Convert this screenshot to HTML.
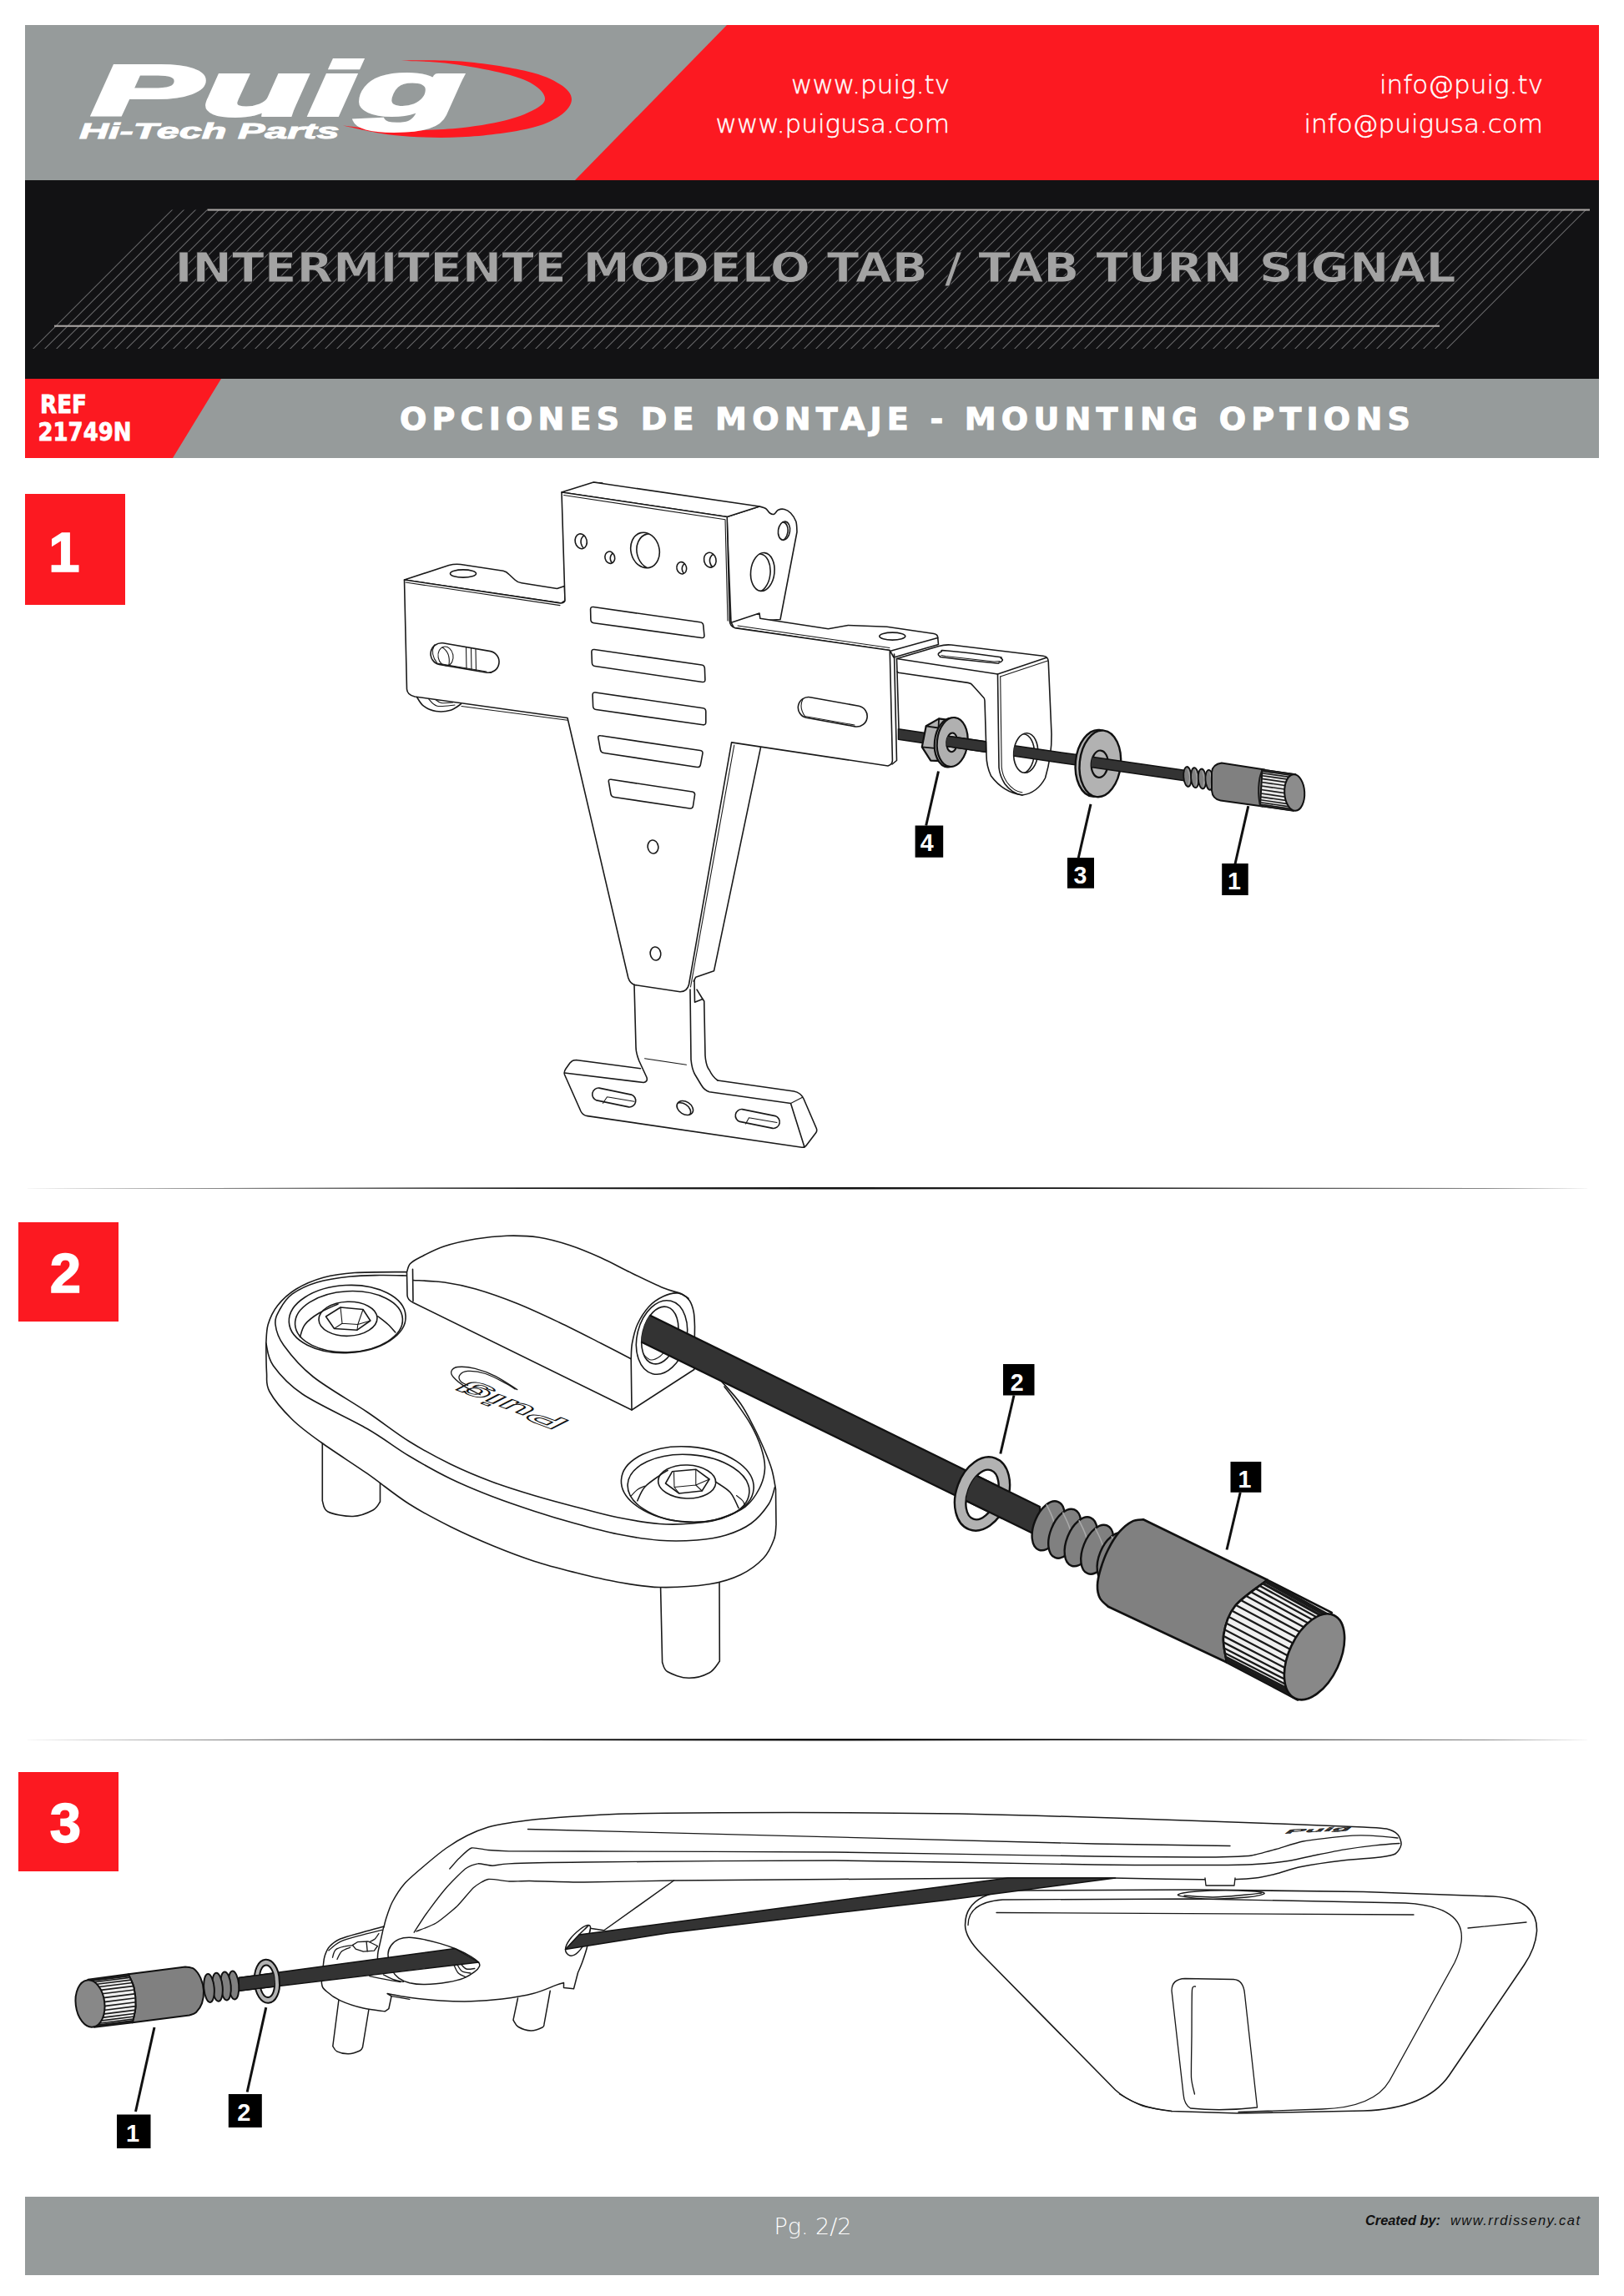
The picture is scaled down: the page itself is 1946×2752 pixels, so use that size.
<!DOCTYPE html>
<html lang="es">
<head>
<meta charset="utf-8">
<title>Puig - Intermitente modelo TAB / TAB turn signal - Opciones de montaje</title>
<style>
html,body{margin:0;padding:0;background:#fff;}
body{width:1946px;height:2752px;overflow:hidden;font-family:"Liberation Sans",sans-serif;}
svg{display:block;position:absolute;left:0;top:0;}
.ln{fill:none;stroke:#1a1a1a;stroke-width:1.6;stroke-linecap:round;stroke-linejoin:round;vector-effect:non-scaling-stroke;}
.lw{fill:#fff;stroke:#1a1a1a;stroke-width:1.6;stroke-linecap:round;stroke-linejoin:round;vector-effect:non-scaling-stroke;}
.thin{fill:none;stroke:#1a1a1a;stroke-width:1.1;stroke-linecap:round;stroke-linejoin:round;vector-effect:non-scaling-stroke;}
.gr{fill:#b0b0b0;stroke:#111;stroke-width:2;stroke-linejoin:round;vector-effect:non-scaling-stroke;}
.dg{fill:#808080;stroke:#111;stroke-width:2;stroke-linejoin:round;vector-effect:non-scaling-stroke;}
.rod{fill:#333;stroke:#111;stroke-width:1.5;stroke-linejoin:round;vector-effect:non-scaling-stroke;}
#draw3 .thin{stroke-width:1.35;}
.lead{fill:none;stroke:#111;stroke-width:3;stroke-linecap:butt;}
.tagbox{fill:#000;}
.tagtxt{fill:#fff;font-family:"Liberation Sans",sans-serif;font-weight:bold;font-size:31px;text-anchor:middle;}
.url{stroke:#fff;stroke-width:0.45;fill:#fff;font-family:"DejaVu Sans Light","DejaVu Sans","Liberation Sans",sans-serif;font-weight:200;font-size:31px;text-anchor:end;}
</style>
</head>
<body>
<svg width="1946" height="2752" viewBox="0 0 1946 2752">
<defs>
  <pattern id="hatch" width="14" height="14" patternUnits="userSpaceOnUse">
    <path d="M-1,10.8 L10.8,-1 M8.8,15 L15,8.8" stroke="#68686a" stroke-width="1.05" fill="none"/>
  </pattern>
</defs>

<!-- ================= HEADER ================= -->
<g id="header">
  <rect x="30" y="30" width="1886" height="187" fill="#969b9b"/>
  <polygon points="871,30 1916,30 1916,217 688,217" fill="#fc1921"/>
  <rect x="30" y="216" width="1886" height="238" fill="#121214"/>
  <!-- hatched band -->
  <polygon points="205,251.5 1906,251.5 1739.5,418 38.5,418" fill="url(#hatch)"/>
  <rect x="248.5" y="250.5" width="1656.5" height="2.1" fill="#a8a4a2"/>
  <rect x="65" y="389.7" width="1660" height="2.1" fill="#a8a4a2"/>
  <text x="209.5" y="338" font-family="'DejaVu Sans','Liberation Sans',sans-serif" font-weight="bold" font-size="49.5" fill="#a3a3a3" stroke="#19191b" stroke-width="1" textLength="1535" lengthAdjust="spacingAndGlyphs">INTERMITENTE MODELO TAB / TAB TURN SIGNAL</text>
  <!-- sub band -->
  <rect x="30" y="454" width="1886" height="95" fill="#969b9b"/>
  <polygon points="30,454 265,454 207,549 30,549" fill="#fc1921"/>
  <text x="48" y="495.4" font-family="'DejaVu Sans','Liberation Sans',sans-serif" font-weight="bold" font-size="29.5" fill="#fff" stroke="#fff" stroke-width="0.8" textLength="56" lengthAdjust="spacingAndGlyphs">REF</text>
  <text x="45.5" y="527.6" font-family="'DejaVu Sans','Liberation Sans',sans-serif" font-weight="bold" font-size="29.5" fill="#fff" stroke="#fff" stroke-width="0.8" textLength="112" lengthAdjust="spacingAndGlyphs">21749N</text>
  <text x="479" y="515" font-family="'DejaVu Sans','Liberation Sans',sans-serif" font-weight="bold" font-size="37" fill="#fff" stroke="#fff" stroke-width="1" letter-spacing="6" textLength="1217" lengthAdjust="spacingAndGlyphs">OPCIONES DE MONTAJE - MOUNTING OPTIONS</text>
  <!-- urls -->
  <text class="url" x="1138" y="111.5">www.puig.tv</text>
  <text class="url" x="1138" y="158.5">www.puigusa.com</text>
  <text class="url" x="1849" y="112" font-size="32.2">info@puig.tv</text>
  <text class="url" x="1849" y="159" font-size="32.2">info@puigusa.com</text>
</g>

<!-- ================= LOGO ================= -->
<g id="logo">
<path d="M411,150.5 C421.5,152.5 450.3,160 474,162.3 C497.7,164.6 526.7,165.6 553,164.3 C579.3,163 612,158.7 631.7,154.4 C651.4,150.1 662.1,144.6 671,138.7 C679.9,132.8 685,125.3 685,119 C685,112.7 679.9,106.6 671,101 C662.1,95.4 651.4,90.1 631.7,85.5 C612,80.9 579.3,75.8 553,73.6 C526.7,71.4 487.2,72.7 474,72.5 C483.8,73 513.3,73.4 533,75.6 C552.7,77.8 575.8,81.9 592.3,85.5 C608.8,89.1 621.9,92.7 631.7,97.3 C641.6,101.9 648.8,108.1 651.4,113 C654,117.9 654.1,121.9 647.5,126.8 C640.9,131.7 627.8,138.2 612,142.6 C596.2,147 576,150.9 553,153.2 C530,155.5 497.7,156.8 474,156.4 C450.3,156 421.5,151.5 411,150.5Z" fill="#fc1921"/>
<text transform="translate(110 138.2) scale(2.30 1)" font-family="'Liberation Sans',sans-serif" font-weight="bold" font-style="italic" fill="#fff" stroke="#fff" stroke-width="4" stroke-linejoin="miter" vector-effect="non-scaling-stroke"><tspan font-size="86">P</tspan><tspan font-size="91">uig</tspan></text>
<text transform="translate(95 166.3) scale(1.87 1)" font-family="'Liberation Sans',sans-serif" font-weight="bold" font-style="italic" font-size="26" fill="#fff" stroke="#fff" stroke-width="1.4" vector-effect="non-scaling-stroke">Hi-Tech Parts</text>
</g>

<!-- ================= STEP BOXES / SEPARATORS ================= -->
<g id="steps" font-family="'Liberation Sans',sans-serif" font-weight="bold" fill="#fff" stroke="#fff" stroke-width="1.6" text-anchor="middle">
  <rect x="30" y="592" width="120" height="133" fill="#fc1921" stroke="none"/>
  <text x="77" y="685" font-size="67">1</text>
  <rect x="22" y="1465" width="120" height="119" fill="#fc1921" stroke="none"/>
  <text x="78.5" y="1549" font-size="67">2</text>
  <rect x="22" y="2124" width="120" height="119" fill="#fc1921" stroke="none"/>
  <text x="78.5" y="2208" font-size="67">3</text>
</g>
<polygon points="24,1424.2 973,1422.9 1908,1424.2 973,1425.5" fill="#111"/>
<polygon points="24,2085.2 973,2083.9 1908,2085.2 973,2086.5" fill="#111"/>

<!-- ================= FOOTER ================= -->
<g id="footer">
  <rect x="30" y="2633" width="1886" height="94" fill="#969b9b"/>
  <text x="974" y="2678" font-family="'DejaVu Sans Light','DejaVu Sans','Liberation Sans',sans-serif" font-weight="200" font-size="27" fill="#fff" text-anchor="middle">Pg. 2/2</text>
  <text x="1636" y="2667" font-family="'Liberation Sans',sans-serif" font-weight="bold" font-style="italic" font-size="16.5" fill="#111" textLength="90" lengthAdjust="spacingAndGlyphs">Created by:</text>
  <text x="1738" y="2667" font-family="'Liberation Sans',sans-serif" font-style="italic" font-size="16.5" fill="#111" textLength="155" lengthAdjust="spacing">www.rrdisseny.cat</text>
</g>

<!-- ================= DRAWING 1 ================= -->
<g id="draw1">
<path class="ln" d="M911.5,895.8 L855.5,1163.8 L833.8,1171.2 L831.2,1176.2"/>
<path class="ln" d="M499.5,835.5 C500.8,837.3 503.7,843.4 507.5,846.2 C511.3,849.1 517.1,851.7 522.5,852.5 C527.9,853.3 535,852.7 540,851.2 C545,849.8 550.4,845 552.5,843.8"/>
<path class="thin" d="M513.8,838 C515.4,839.4 518.5,845.1 523.8,846.2 C529,847.4 541.5,845.2 545,845"/>
<path class="thin" d="M521.2,838 C522.5,838.8 525.2,841.8 528.8,842.5 C532.3,843.2 540.2,842.1 542.5,842"/>
<path class="lw" d="M910,607 C911.2,607.4 915.4,608.2 917.5,609.5 C919.6,610.8 920.8,613.9 922.5,615 C924.2,616.1 925.8,616.9 927.5,616.2 C929.2,615.6 930.4,612.2 932.5,611.2 C934.6,610.3 937.5,609.9 940,610.5 C942.5,611.1 945.2,612.6 947.5,615 C949.8,617.4 952.5,621.2 953.8,625 C955,628.8 954.8,635.4 955,637.5 L935,742.5 L876,746 L871,619.5 Z"/>
<path class="lw" d="M876.2,746.2 L910,735 L910.8,741.2 L992.5,753.8 L1016.3,749.5 L1062.8,751.2 L1119,759.5 Q1123.75,760.5 1123.75,764.5 L1124.5,772.5 L1071,788 L1066.25,779.5 L879.5,752.5 Z"/>
<path class="ln" d="M1123.75,764.5 L1068,780"/>
<ellipse class="ln" cx="1069.3" cy="762.6" rx="15.5" ry="4.5"/>
<path class="lw" d="M484.5,695 L538,677.6 Q545,675.5 552,676.5 L603,684.2 Q607,685 610,688.5 L617,695 Q620,698 625,698.8 L667.5,705.5 L676.5,702.5 L677,720 L672.5,723 Z"/>
<ellipse class="ln" cx="555" cy="687.5" rx="15.5" ry="4.6"/>
<path class="lw" d="M673,590 L711.2,578 L910,607 L871.2,619.5Z"/>
<path class="thin" d="M711.25,578 L722,578.8"/>
<path class="lw" d="M673,590 L871.25,619.5 L874.3,744 Q874.6,750.5 880.5,752.6 L1066.25,779.5 L1069.4,911 Q1069.5,916 1064,918 L876.6,889.9 L825.5,1180 Q823.5,1188.5 815,1188.7 L761,1180.6 Q755,1179 752.8,1172 L680,860.5 L497,835 Q488,833 487.5,826 L484.5,695 L671.5,722.9 Q676,723 677,720 Z"/>
<path class="thin" d="M675.5,593.5 L869,622.8 L872,744"/>
<path class="thin" d="M486,698 L671,725.6"/>
<path class="thin" d="M884,750 L1066,776.5"/>
<path class="ln" d="M1071.5,784 L1074.5,911.5 L1069,916"/>
<path class="thin" d="M879.8,893 L827.5,1183"/>
<path class="thin" d="M553,846.5 L680,863.3"/>
<clipPath id="hc1"><ellipse cx="696.2" cy="648.8" rx="7" ry="9" transform="rotate(-14 696.2 648.8)"/></clipPath><ellipse class="ln" cx="696.2" cy="648.8" rx="7" ry="9" transform="rotate(-14 696.2 648.8)" style="fill:none"/><g clip-path="url(#hc1)"><ellipse class="ln" cx="703.2" cy="650.2" rx="7" ry="9" transform="rotate(-14 703.2 650.2)"/></g>
<clipPath id="hc2"><ellipse cx="730.8" cy="668.2" rx="5.8" ry="7.2" transform="rotate(-14 730.8 668.2)"/></clipPath><ellipse class="ln" cx="730.8" cy="668.2" rx="5.8" ry="7.2" transform="rotate(-14 730.8 668.2)" style="fill:none"/><g clip-path="url(#hc2)"><ellipse class="ln" cx="737.2" cy="669.8" rx="5.8" ry="7.2" transform="rotate(-14 737.2 669.8)"/></g>
<clipPath id="hc3"><ellipse cx="773" cy="659.5" rx="17" ry="21.5" transform="rotate(-14 773 659.5)"/></clipPath><ellipse class="ln" cx="773" cy="659.5" rx="17" ry="21.5" transform="rotate(-14 773 659.5)" style="fill:none"/><g clip-path="url(#hc3)"><ellipse class="ln" cx="780.2" cy="661" rx="17" ry="21.5" transform="rotate(-14 780.2 661)"/></g>
<clipPath id="hc4"><ellipse cx="816.8" cy="680.8" rx="5.8" ry="7.2" transform="rotate(-14 816.8 680.8)"/></clipPath><ellipse class="ln" cx="816.8" cy="680.8" rx="5.8" ry="7.2" transform="rotate(-14 816.8 680.8)" style="fill:none"/><g clip-path="url(#hc4)"><ellipse class="ln" cx="823.2" cy="682.2" rx="5.8" ry="7.2" transform="rotate(-14 823.2 682.2)"/></g>
<clipPath id="hc5"><ellipse cx="850.8" cy="671.2" rx="7.2" ry="9" transform="rotate(-14 850.8 671.2)"/></clipPath><ellipse class="ln" cx="850.8" cy="671.2" rx="7.2" ry="9" transform="rotate(-14 850.8 671.2)" style="fill:none"/><g clip-path="url(#hc5)"><ellipse class="ln" cx="857.8" cy="672.8" rx="7.2" ry="9" transform="rotate(-14 857.8 672.8)"/></g>
<clipPath id="hc6"><ellipse cx="939.5" cy="636.2" rx="7" ry="11.2" transform="rotate(8 939.5 636.2)"/></clipPath><ellipse class="ln" cx="939.5" cy="636.2" rx="7" ry="11.2" transform="rotate(8 939.5 636.2)" style="fill:none"/><g clip-path="url(#hc6)"><ellipse class="ln" cx="937" cy="637" rx="7" ry="11.2" transform="rotate(8 937 637)"/></g>
<clipPath id="hc7"><ellipse cx="913.8" cy="685.5" rx="14.2" ry="23" transform="rotate(6 913.8 685.5)"/></clipPath><ellipse class="ln" cx="913.8" cy="685.5" rx="14.2" ry="23" transform="rotate(6 913.8 685.5)" style="fill:none"/><g clip-path="url(#hc7)"><ellipse class="ln" cx="908.8" cy="686.8" rx="14.2" ry="23" transform="rotate(6 908.8 686.8)"/></g>
<path class="ln" d="M707.6,730.5 Q707.5,727 711,727.5 L839,745.8 Q842.5,746.2 842.8,749.7 L843.9,761.5 Q844.2,765 840.8,764.5 L711.5,746.7 Q708,746.2 707.9,742.8 Z"/>
<path class="ln" d="M708.9,781.5 Q708.8,778 712.2,778.5 L840.8,797 Q844.2,797.5 844.4,801 L844.9,814.5 Q845,818 841.5,817.5 L713,798.5 Q709.5,798 709.4,794.5 Z"/>
<path class="ln" d="M710.1,833 Q710,829.5 713.5,830 L842.3,848.7 Q845.8,849.2 845.8,852.8 L845.8,865.8 Q845.8,869.2 842.3,868.8 L714.2,850.5 Q710.8,850 710.6,846.5 Z"/>
<path class="ln" d="M716.9,884.7 Q716.2,881.2 719.7,881.8 L839,899.5 Q842.5,900 841.9,903.4 L839.4,916.6 Q838.8,920 835.3,919.5 L723.5,902.5 Q720,902 719.4,898.6 Z"/>
<path class="ln" d="M729.4,937.2 Q728.8,933.8 732.2,934.3 L829.5,949 Q833,949.5 832.5,953 L830.5,966 Q830,969.5 826.5,969 L736,955.5 Q732.5,955 731.9,951.6 Z"/>
<ellipse class="ln" cx="782.5" cy="1015" rx="6.3" ry="8" transform="rotate(-8 782.5 1015)"/>
<ellipse class="ln" cx="785.5" cy="1143" rx="6.3" ry="8" transform="rotate(-8 785.5 1143)"/>
<path class="ln" d="M530.7,770.8 L587.8,780.6 A13,13 0 0 1 583.4,806.2 L526.3,796.4 A13,13 0 0 1 530.7,770.8 Z"/>
<path class="thin" d="M520.5,773 Q515,784 524,795 L583,805"/>
<ellipse class="thin" cx="534" cy="786.5" rx="9" ry="11.5" transform="rotate(-10 534 786.5)"/>
<path class="thin" d="M530,776 Q540,782 538,797"/>
<path class="thin" d="M558.5,776.1 L559,801.6"/>
<path class="thin" d="M564.5,777.1 L565,802.6"/>
<path class="thin" d="M570,778 L570.5,803.5"/>
<path class="ln" d="M970.7,835.7 L1029.2,846.3 A12.5,12.5 0 0 1 1024.8,870.9 L966.3,860.3 A12.5,12.5 0 0 1 970.7,835.7 Z"/>
<path class="thin" d="M962,838 Q957,848 964.5,858.5 L1024,869"/>
<path class="ln" d="M832,1175 L832.5,1201.2 L842,1197.5 L835,1186.2"/>
<path class="ln" d="M842,1197.5 L843.75,1200 L845,1265 Q846,1278 850,1282.5 Q854,1291 860,1295"/>
<path class="ln" d="M690,1270.5 L767.5,1280.75 M690,1270.5 Q686,1270.5 683,1274 L678,1281 Q675.5,1284.5 676.5,1288 L696,1332 Q698.5,1337 704,1337.6 L961,1375.2 Q964.5,1375.5 966.5,1372.5 L977.5,1358 Q979.5,1355.5 978.3,1352.5 L963,1317 Q959.5,1309.5 951.25,1308 L860,1295"/>
<path class="ln" d="M676.5,1286 L771.25,1297.5 Q776.5,1296.5 775,1291.5 L766,1272 Q762,1262 762,1255 L760,1180.5"/>
<path class="ln" d="M827,1186 L828,1270 Q829,1281 832.5,1287.5 L840,1300 Q844,1307 850,1308.75 L947.5,1322.5 L964,1375"/>
<path class="thin" d="M947.5,1322.5 L962,1315"/>
<path class="thin" d="M772.5,1268.75 L822.5,1276.25"/>
<path class="ln" d="M718,1304.1 L756.5,1312.1 A7.6,7.6 0 0 1 753.5,1326.9 L715,1318.9 A7.6,7.6 0 0 1 718,1304.1 Z"/>
<path class="thin" d="M727.5,1314.8 L760,1320.3 M727.5,1314.8 L722.5,1322.3"/>
<path class="ln" d="M889.5,1329.6 L929,1337.6 A7.6,7.6 0 0 1 926,1352.4 L886.5,1344.4 A7.6,7.6 0 0 1 889.5,1329.6 Z"/>
<path class="thin" d="M897.5,1339.7 L931,1345.5 M897.5,1339.7 L893.5,1347"/>
<clipPath id="hc8"><ellipse cx="820.8" cy="1328" rx="10.5" ry="7.5" transform="rotate(32 820.8 1328)"/></clipPath><ellipse class="ln" cx="820.8" cy="1328" rx="10.5" ry="7.5" transform="rotate(32 820.8 1328)" style="fill:none"/><g clip-path="url(#hc8)"><ellipse class="ln" cx="817.8" cy="1330.2" rx="10.5" ry="7.5" transform="rotate(32 817.8 1330.2)"/></g>
<path class="rod" d="M1076.5,873.8 L1112,878.9 L1112,891.4 L1076.5,886.3Z"/>
<path class="gr" d="M1125.1,861.4 L1109.7,870.3 L1104.8,895.3 L1115.2,911.6 L1126.9,912.2 L1133.1,886.9 L1132.5,862.3Z" style="fill:#b0b0b0;stroke-width:2.2"/>
<path class="ln" d="M1109.7,870.3 L1124.5,872.5 L1120.2,896.8 L1104.8,895.3M1125.1,861.4 L1124.5,872.5M1120.2,896.8 L1124.5,911.6" style="stroke:#111;stroke-width:1.8"/>
<ellipse class="gr" cx="1138.2" cy="890" rx="18.3" ry="29.6" transform="rotate(6 1138.2 890)" style="fill:#b0b0b0;stroke-width:2.2"/>
<ellipse class="gr" cx="1141.2" cy="889.5" rx="18.3" ry="29.6" transform="rotate(6 1141.2 889.5)" style="fill:#b0b0b0;stroke-width:2.2"/>
<clipPath id="nutc"><path d="M1134.2,889.5 A7,11.3 0 1 1 1148.2,889.5 A7,11.3 0 1 1 1134.2,889.5 Z M1141.2,819.5 h140 v140 h-140 Z"/></clipPath>
<ellipse class="gr" cx="1140.7" cy="889.8" rx="6.5" ry="11.4" transform="rotate(4 1140.7 889.8)" style="fill:#d0d0d0;stroke-width:2"/>
<g clip-path="url(#nutc)"><path class="rod" d="M1133.2,882 L1183,889.1 L1183,901.6 L1133.2,894.5Z"/></g>
<path class="lw" d="M1074.5,789.5 L1125,774.5 Q1132,772.3 1140,773 L1250,786.25 Q1256,787 1256.25,793 L1260,880 Q1260.5,905 1252.5,932.5 Q1243,950.5 1225,953 Q1202.5,950 1187.5,930 Q1182,918 1182,905 L1180,840 Q1179.5,836.5 1178.75,836.25 L1166,822 Q1164,819 1160,818.4 L1076.5,806.3 L1075,805 Z"/>
<g clip-path="url(#nutc)"><path class="rod" d="M1133.2,882 L1181.5,888.9 L1181.5,901.4 L1133.2,894.5Z"/></g>
<path class="ln" d="M1074.5,789.5 L1195.5,808 L1254,788.2"/>
<path class="thin" d="M1198.5,811 L1255.5,792"/>
<path class="ln" d="M1195.5,808 L1197,920 Q1198,930 1204,939.5 Q1213,951.5 1225,953"/>
<path class="thin" d="M1198.7,811 L1200.2,919.5 Q1201,929 1206.5,937.5 Q1214.5,948.5 1225,950"/>
<path class="ln" d="M1075,805 L1077,873"/>
<path class="ln" d="M1124.2,784 C1124.5,783 1126.2,781.7 1128,781 C1129.8,780.3 1124,779 1135,780 C1146,781 1183,785.5 1193.8,787 C1204.5,788.5 1198.2,788.2 1199.5,789 C1200.8,789.8 1201.7,790.6 1201.2,791.5 C1200.8,792.4 1198.9,793.8 1197,794.2 C1195.1,794.8 1200.7,795.5 1190,794.5 C1179.3,793.5 1143.6,789.5 1133,788.2 C1122.4,787 1128,787.5 1126.5,786.8 C1125,786 1124,785 1124.2,784Z"/>
<path class="thin" d="M1128,785.5 L1133,786.5 L1191.2,793 L1198,792.5"/>
<clipPath id="hc9"><ellipse cx="1229.2" cy="902.5" rx="14.5" ry="23.8" transform="rotate(4 1229.2 902.5)"/></clipPath><ellipse class="ln" cx="1229.2" cy="902.5" rx="14.5" ry="23.8" transform="rotate(4 1229.2 902.5)" style="fill:#fff"/><g clip-path="url(#hc9)"><ellipse class="ln" cx="1224.8" cy="903.5" rx="14.5" ry="23.8" transform="rotate(4 1224.8 903.5)"/></g>
<clipPath id="tabc"><path d="M1214.8,902.5 A14.5,23.8 0 1 1 1243.8,902.5 A14.5,23.8 0 1 1 1214.8,902.5 Z M1232.2,832.5 h140 v140 h-140 Z"/></clipPath>
<g clip-path="url(#tabc)"><path class="rod" d="M1213.2,893.5 L1294,905.1 L1294,917.6 L1213.2,906Z"/></g>
<ellipse class="gr" cx="1313.4" cy="914.8" rx="24.6" ry="40" transform="rotate(6 1313.4 914.8)" style="fill:#b2b2b2;stroke-width:2.4"/>
<ellipse class="gr" cx="1318.3" cy="915.4" rx="24.6" ry="40" transform="rotate(6 1318.3 915.4)" style="fill:#b2b2b2;stroke-width:2.4"/>
<clipPath id="wc"><path d="M1307.7,915.7 A10,16.2 0 1 1 1327.7,915.7 A10,16.2 0 1 1 1307.7,915.7 Z M1321.3,845.7 h140 v140 h-140 Z"/></clipPath>
<ellipse class="gr" cx="1317.7" cy="915.7" rx="10" ry="16.2" transform="rotate(4 1317.7 915.7)" style="fill:#b2b2b2;stroke-width:2.2"/>
<g clip-path="url(#wc)"><path class="rod" d="M1306.3,906.9 L1421,923.4 L1421,935.9 L1306.3,919.4Z"/></g>
<path class="dg" d="M1419.5,925.5 L1453,930.2 L1453,942.5 L1419.5,937.5Z" style="stroke-width:1.5"/>
<ellipse class="dg" cx="1423" cy="931" rx="4.7" ry="12" transform="rotate(-4 1423 931)" style="stroke-width:1.8"/>
<path class="thin" d="M1423.5,922 C1423.8,923.5 1425.4,928 1425.6,931 C1425.8,934 1424.7,938.5 1424.5,940" style="stroke:#a5a5a5;stroke-width:1.2"/>
<ellipse class="dg" cx="1431.8" cy="932.2" rx="4.7" ry="12" transform="rotate(-4 1431.8 932.2)" style="stroke-width:1.8"/>
<path class="thin" d="M1432.2,923.2 C1432.6,924.8 1434.2,929.2 1434.3,932.2 C1434.5,935.2 1433.4,939.8 1433.2,941.2" style="stroke:#a5a5a5;stroke-width:1.2"/>
<ellipse class="dg" cx="1440.5" cy="933.5" rx="4.7" ry="12" transform="rotate(-4 1440.5 933.5)" style="stroke-width:1.8"/>
<path class="thin" d="M1441,924.5 C1441.3,926 1442.9,930.5 1443.1,933.5 C1443.3,936.5 1442.2,941 1442,942.5" style="stroke:#a5a5a5;stroke-width:1.2"/>
<ellipse class="dg" cx="1449.2" cy="934.8" rx="4.7" ry="12" transform="rotate(-4 1449.2 934.8)" style="stroke-width:1.8"/>
<path class="thin" d="M1449.8,925.8 C1450.1,927.2 1451.7,931.8 1451.8,934.8 C1452,937.8 1450.9,942.2 1450.8,943.8" style="stroke:#a5a5a5;stroke-width:1.2"/>
<path class="dg" d="M1463.8,914.5 L1515.5,922.5 L1513,966.5 L1462.5,959.5 Q1453,958 1452,947.5 L1452,925.5 Q1453,916 1463.8,914.5 Z"/>
<path class="gr" d="M1512.5,922.5 L1552.5,928.2 L1550,971.8 L1510,966Z" style="fill:#e9e9e9"/>
<path class="thin" d="M1512.5,922.5 L1552.5,928.2" style="stroke:#1c1c1c;stroke-width:1.6"/>
<path class="thin" d="M1512.5,923 L1552.5,928.7" style="stroke:#1c1c1c;stroke-width:1.6"/>
<path class="thin" d="M1512.4,924.4 L1552.4,930.1" style="stroke:#1c1c1c;stroke-width:1.6"/>
<path class="thin" d="M1512.3,926.7 L1552.3,932.4" style="stroke:#1c1c1c;stroke-width:1.6"/>
<path class="thin" d="M1512.1,929.7 L1552.1,935.4" style="stroke:#1c1c1c;stroke-width:1.6"/>
<path class="thin" d="M1511.9,933.4 L1551.9,939.1" style="stroke:#1c1c1c;stroke-width:1.6"/>
<path class="thin" d="M1511.6,937.5 L1551.6,943.3" style="stroke:#1c1c1c;stroke-width:1.6"/>
<path class="thin" d="M1511.4,942 L1551.4,947.7" style="stroke:#1c1c1c;stroke-width:1.6"/>
<path class="thin" d="M1511.1,946.5 L1551.1,952.3" style="stroke:#1c1c1c;stroke-width:1.6"/>
<path class="thin" d="M1510.9,951 L1550.9,956.7" style="stroke:#1c1c1c;stroke-width:1.6"/>
<path class="thin" d="M1510.6,955.1 L1550.6,960.9" style="stroke:#1c1c1c;stroke-width:1.6"/>
<path class="thin" d="M1510.4,958.8 L1550.4,964.6" style="stroke:#1c1c1c;stroke-width:1.6"/>
<path class="thin" d="M1510.2,961.8 L1550.2,967.6" style="stroke:#1c1c1c;stroke-width:1.6"/>
<path class="thin" d="M1510.1,964.1 L1550.1,969.9" style="stroke:#1c1c1c;stroke-width:1.6"/>
<path class="thin" d="M1510,965.5 L1550,971.3" style="stroke:#1c1c1c;stroke-width:1.6"/>
<path class="thin" d="M1510,966 L1550,971.8" style="stroke:#1c1c1c;stroke-width:1.6"/>
<path class="ln" d="M1512.5,922.5 C1512,924.2 1510.2,928.9 1509.5,932.5 C1508.8,936.1 1508.4,940.3 1508.2,944.2 C1508.1,948.2 1508.2,952.6 1508.5,956.2 C1508.8,959.9 1509.8,964.4 1510,966" style="stroke-width:2"/>
<ellipse class="dg" cx="1551.2" cy="950" rx="12" ry="21.8" transform="rotate(-3 1551.2 950)" style="fill:#8c8c8c"/>
<path class="lead" d="M1124.5,924.5 L1109.7,989.5"/>
<path class="lead" d="M1307,963.8 L1292.2,1028.5"/>
<path class="lead" d="M1495.8,966.2 L1480,1035.5"/>
<rect class="tagbox" x="1096.6" y="989.5" width="33.6" height="38.2"/><text class="tagtxt" x="1110.8" y="1020" style="font-size:28.6px">4</text>
<rect class="tagbox" x="1279" y="1028.1" width="32" height="36.6"/><text class="tagtxt" x="1294.4" y="1058.9" style="font-size:28.6px">3</text>
<rect class="tagbox" x="1464.2" y="1035" width="31.5" height="38"/><text class="tagtxt" x="1479" y="1065.7" style="font-size:28.6px">1</text>
</g>

<!-- ================= DRAWING 2 ================= -->
<g id="draw2">
<path class="lw" d="M386.3,1700 L386.3,1799  C387.4,1801.2 386.9,1808.9 393,1812 C399.1,1815.1 414,1817.8 423,1817.5 C432,1817.2 441.6,1812.9 447,1810 C452.4,1807.1 454.1,1801.7 455.5,1800 L455.5,1770"/>
<path class="lw" d="M791.3,1890 L793.6,1992.5  C794.7,1994.4 794.8,2000.7 800,2003.8 C805.2,2006.9 816.7,2011.1 825,2011.3 C833.3,2011.5 843.8,2008.3 850,2005 C856.2,2001.7 860.2,1993.6 862.3,1991.3 L862,1890"/>
<path class="lw" d="M487.5,1524.5 C477.1,1524.7 441.7,1524.4 425,1525.5 C408.3,1526.6 399.2,1528 387.5,1531.2 C375.8,1534.5 364.2,1539.4 355,1545 C345.8,1550.6 338.1,1557.9 332.5,1565 C326.9,1572.1 323.5,1580 321.2,1587.5 C319,1595 319.2,1606.2 318.8,1610 C318.9,1615.8 318.8,1635.3 319.5,1645 C320.2,1654.7 317.9,1658.6 323,1668 C328.1,1677.4 339.7,1691.1 350,1701.2 C360.3,1711.4 370,1718.2 385,1729 C400,1739.8 422.5,1754 440,1766.2 C457.5,1778.5 473.3,1791.9 490,1802.5 C506.7,1813.1 523.3,1821.7 540,1830 C556.7,1838.3 573.3,1845.6 590,1852.5 C606.7,1859.4 623.3,1865.8 640,1871.2 C656.7,1876.7 673.3,1880.8 690,1885 C706.7,1889.2 723.3,1893.3 740,1896.2 C756.7,1899.2 771.7,1902.1 790,1902.5 C808.3,1902.9 833.8,1901.2 850,1898.8 C866.2,1896.2 876.7,1892.7 887.5,1887.5 C898.3,1882.3 908.3,1874.6 915,1867.5 C921.7,1860.4 925,1851.7 927.5,1845 C930,1838.3 929.6,1830.4 930,1827.5 L929.5,1785  C928.8,1781.2 927.2,1769.8 925,1762 C922.8,1754.2 919.7,1746.7 916,1738 C912.3,1729.3 907.8,1719.2 903,1710 C898.2,1700.8 893.8,1691.5 887.5,1682.5 C881.2,1673.5 868.8,1660.6 865,1656.2 L760,1560 Z"/>
<path class="ln" d="M318.8,1610 C320.2,1614.5 320.2,1626.8 327.5,1637 C334.8,1647.2 343.8,1658.4 362.5,1671 C381.2,1683.6 418.8,1700.2 440,1712.5 C461.2,1724.8 473.3,1735 490,1745 C506.7,1755 523.3,1764.4 540,1772.5 C556.7,1780.6 573.3,1787.3 590,1793.8 C606.7,1800.2 623.3,1805.8 640,1811.2 C656.7,1816.7 673.3,1821.7 690,1826.2 C706.7,1830.8 723.3,1835.4 740,1838.8 C756.7,1842.1 774.2,1845 790,1846.2 C805.8,1847.5 821.7,1847 835,1846 C848.3,1845 859.2,1843.3 870,1840 C880.8,1836.7 891.5,1832.2 900,1826 C908.5,1819.8 916.2,1810.2 921,1803 C925.8,1795.8 927.2,1785.9 928.5,1782.5"/>
<path class="ln" d="M487.5,1529 C482.1,1528.9 466.2,1528.3 455,1528.5 C443.8,1528.7 432.5,1528.6 420,1530 C407.5,1531.4 391.7,1533.5 380,1537 C368.3,1540.5 357.5,1545.8 350,1551.2 C342.5,1556.8 338.3,1564 335,1570 C331.7,1576 329.2,1580.4 330,1587.5 C330.8,1594.6 332.5,1602.1 340,1612.5 C347.5,1622.9 358.3,1636.7 375,1650 C391.7,1663.3 420.8,1679.6 440,1692.5 C459.2,1705.4 473.3,1717.1 490,1727.5 C506.7,1737.9 523.3,1746.9 540,1755 C556.7,1763.1 573.3,1770 590,1776.2 C606.7,1782.5 623.3,1787.5 640,1792.5 C656.7,1797.5 673.3,1801.9 690,1806.2 C706.7,1810.6 723.3,1815.4 740,1818.8 C756.7,1822.1 775,1825.3 790,1826.5 C805,1827.7 817.9,1827.1 830,1826 C842.1,1824.9 852,1823.3 862.5,1820 C873,1816.7 885.1,1812 893,1806 C900.9,1800 906.1,1791.7 910,1784 C913.9,1776.3 916.2,1768.2 916.5,1760 C916.8,1751.8 914.8,1743.7 912,1735 C909.2,1726.3 905.3,1717.5 900,1708 C894.7,1698.5 885.3,1685.7 880,1678 C874.7,1670.3 870,1664.7 868,1662"/>
<ellipse class="ln" cx="416.2" cy="1581" rx="70" ry="40.5" transform="rotate(-3 416.2 1581)"/>
<ellipse class="ln" cx="418" cy="1584.2" rx="64.5" ry="36.5" transform="rotate(-3 418 1584.2)"/>
<path class="ln" d="M359.5,1602.5 C360.5,1600 361.7,1592.3 365.5,1587.5 C369.3,1582.7 375.9,1577.8 382.5,1573.8 C389.1,1569.7 401.2,1564.8 405,1563"/>
<path class="ln" d="M452.5,1577.5 C454.6,1579.2 461.5,1584.2 465,1587.5 C468.5,1590.8 472.3,1595.4 473.8,1597"/>
<ellipse class="ln" cx="417" cy="1580.8" rx="35" ry="20.5" transform="rotate(-2 417 1580.8)"/>
<path class="ln" d="M390.5,1578 L408,1567 L435,1569.5 L443.8,1583 L428,1594.2 L400.5,1592.5Z"/>
<path class="thin" d="M408,1567 L410,1586.2 L400.5,1592.5M410,1586.2 L428.8,1587.5 L443.8,1583M428.8,1587.5 L428,1594.2M435,1569.5 L428.8,1587.5"/>
<ellipse class="ln" cx="823.8" cy="1779" rx="79.5" ry="45" transform="rotate(4 823.8 1779)"/>
<ellipse class="ln" cx="825" cy="1784" rx="73" ry="40.5" transform="rotate(4 825 1784)"/>
<path class="ln" d="M763.8,1798.8 C765.2,1796 768.1,1787.5 772.5,1782.5 C776.9,1777.5 785.4,1772.1 790,1768.8 C794.6,1765.4 798.3,1763.5 800,1762.5"/>
<path class="ln" d="M857.5,1776.2 C860.4,1778.3 870.4,1783.5 875,1788.8 C879.6,1794 883.3,1804.4 885,1807.5"/>
<path class="thin" d="M756.2,1793 C757.5,1791.8 761,1787.5 763.8,1785.5 C766.5,1783.5 771,1782 772.5,1781.2"/>
<path class="thin" d="M882.5,1792.5 C883.8,1793.5 888.4,1796.9 890,1798.8 C891.6,1800.6 891.7,1802.9 892,1803.8"/>
<ellipse class="ln" cx="823.2" cy="1776" rx="34.5" ry="20" transform="rotate(2 823.2 1776)"/>
<path class="ln" d="M797.5,1778 L805.5,1763.8 L833.8,1761.2 L850,1773 L841.2,1787 L813.8,1790Z"/>
<path class="thin" d="M807.5,1764.5 L808,1782.5 L813.8,1790M808,1782.5 L833.8,1780 L850,1773M833.8,1761.2 L833.8,1780 L841.2,1787"/>
<path class="lw" d="M487.5,1525 C488.1,1523.3 488.8,1517.9 491.2,1515 C493.8,1512.1 495.6,1511 502.5,1507.5 C509.4,1504 521.2,1497.5 532.5,1493.8 C543.8,1490 557.5,1487.1 570,1485 C582.5,1482.9 595,1481.6 607.5,1481.2 C620,1480.9 632.5,1481.1 645,1483 C657.5,1484.9 670,1488.4 682.5,1492.5 C695,1496.6 707.5,1501.9 720,1507.5 C732.5,1513.1 745,1520.2 757.5,1526.2 C770,1532.3 785,1539.6 795,1543.8 C805,1547.9 812.3,1548.8 817.5,1551.2 C822.7,1553.8 824,1555.2 826.2,1558.8 C828.5,1562.3 830.2,1567.3 831.2,1572.5 C832.3,1577.7 832.3,1587.1 832.5,1590 L831.8,1641.5 L757,1690 L495,1561.2 Q488.2,1558 488,1552.5 Z"/>
<path class="ln" d="M494.5,1521.2 L495,1559.5"/>
<path class="ln" d="M495,1534.5 C501.2,1534.9 520,1535.2 532.5,1537 C545,1538.8 555.4,1540.8 570,1545 C584.6,1549.2 603.3,1555.8 620,1562.5 C636.7,1569.2 653.3,1577.1 670,1585 C686.7,1592.9 705.6,1602.7 720,1610 C734.4,1617.3 750.2,1625.6 756.2,1628.8"/>
<path class="ln" d="M757,1690 L756.2,1628.8 C756.5,1625.6 756.2,1616.9 757.5,1610 C758.8,1603.1 760.4,1594.8 763.8,1587.5 C767.1,1580.2 772.3,1571.9 777.5,1566.2 C782.7,1560.6 789.2,1556.5 795,1553.8 C800.8,1551 807.5,1549.6 812.5,1550 C817.5,1550.4 822.9,1555.2 825,1556.2"/>
<ellipse class="ln" cx="793" cy="1603" rx="29.5" ry="45" transform="rotate(14 793 1603)"/>
<ellipse class="ln" cx="790.8" cy="1600.5" rx="21" ry="35" transform="rotate(14 790.8 1600.5)"/>
<path class="thin" d="M771.2,1623.8 C772.7,1624.8 776.7,1629.7 780,1630 C783.3,1630.3 788.3,1627.6 791.2,1625.5 C794.2,1623.4 796.5,1618.8 797.5,1617.5"/>
<clipPath id="d2c"><path d="M770.4,1595.5 A21,35 14 1 1 811.1,1605.5 A21,35 14 1 1 770.4,1595.5 Z M792.8,1480 h800 v600 h-800 Z"/></clipPath>
<g clip-path="url(#d2c)"><path class="rod" d="M760,1567.4 L1200,1783.4 L1200,1819.5 L760,1604.3Z" style="stroke-width:2.2"/></g>
<text transform="matrix(-2.92 -1.09 1.465 -0.757 684.5 1703.7)" font-family="'Liberation Sans',sans-serif" font-weight="bold" font-size="20" fill="none" stroke="#111" stroke-width="1.9" stroke-linejoin="round" vector-effect="non-scaling-stroke">Puig</text>
<path class="ln" d="M575.4,1671.7 C572.3,1670.1 562.3,1665.4 556.9,1661.9 C551.6,1658.4 546.1,1653.9 543.4,1650.8 C540.7,1647.7 540.1,1645.5 540.9,1643.4 C541.8,1641.3 543.6,1639 548.3,1638.5 C553,1638 561.7,1638.5 569.3,1640.3 C576.9,1642.2 585.5,1645.3 593.9,1649.6 C602.3,1653.8 615.4,1662.9 619.8,1665.6" style="stroke-width:1.3"/>
<path class="ln" d="M617.3,1665 C615.4,1663.8 612.2,1661.3 606.2,1658.2 C600.3,1655.1 589.2,1648.9 581.6,1646.5 C574,1644 565.8,1643.1 560.6,1643.4 C555.5,1643.7 552.2,1646.3 550.8,1648.3 C549.4,1650.4 550.4,1653.7 552,1655.7 C553.7,1657.8 559.2,1659.8 560.6,1660.6" style="stroke-width:1.3"/>
<path class="gr" style="fill:#b2b2b2;stroke-width:2.4" fill-rule="evenodd" d="M1148,1779.5 A31,45.5 20 1 1 1206,1801.5 A31,45.5 20 1 1 1148,1779.5 Z M1160.5,1785.5 A17.5,31 20 1 0 1193.5,1797.5 A17.5,31 20 1 0 1160.5,1785.5 Z"/>
<clipPath id="d2w"><path d="M1160.5,1785.5 A17.5,31 20 1 1 1193.5,1797.5 A17.5,31 20 1 1 1160.5,1785.5 Z M1181,1600 h300 v400 h-300 Z"/></clipPath>
<g clip-path="url(#d2w)"><path class="rod" d="M1140,1753.9 L1246,1806 L1246,1842 L1140,1790.1Z" style="stroke-width:2.2"/></g>
<ellipse class="dg" cx="1256.2" cy="1828.8" rx="17" ry="31" transform="rotate(22 1256.2 1828.8)" style="stroke-width:2.4"/>
<path class="thin" d="M1254.2,1803.8 C1255.8,1807.4 1261.9,1817.9 1263.2,1825.8 C1264.6,1833.6 1262.4,1846.6 1262.2,1850.8" style="stroke:#a9a9a9;stroke-width:1.6"/>
<ellipse class="dg" cx="1275.8" cy="1838.2" rx="17" ry="31" transform="rotate(22 1275.8 1838.2)" style="stroke-width:2.4"/>
<path class="thin" d="M1273.8,1813.2 C1275.2,1816.9 1281.4,1827.4 1282.8,1835.2 C1284.1,1843.1 1281.9,1856.1 1281.8,1860.2" style="stroke:#a9a9a9;stroke-width:1.6"/>
<ellipse class="dg" cx="1295.2" cy="1847.8" rx="17" ry="31" transform="rotate(22 1295.2 1847.8)" style="stroke-width:2.4"/>
<path class="thin" d="M1293.2,1822.8 C1294.8,1826.4 1300.9,1836.9 1302.2,1844.8 C1303.6,1852.6 1301.4,1865.6 1301.2,1869.8" style="stroke:#a9a9a9;stroke-width:1.6"/>
<ellipse class="dg" cx="1314.8" cy="1857.2" rx="17" ry="31" transform="rotate(22 1314.8 1857.2)" style="stroke-width:2.4"/>
<path class="thin" d="M1312.8,1832.2 C1314.2,1835.9 1320.4,1846.4 1321.8,1854.2 C1323.1,1862.1 1320.9,1875.1 1320.8,1879.2" style="stroke:#a9a9a9;stroke-width:1.6"/>
<ellipse class="dg" cx="1334.2" cy="1866.8" rx="17" ry="31" transform="rotate(22 1334.2 1866.8)" style="stroke-width:2.4"/>
<path class="thin" d="M1332.2,1841.8 C1333.8,1845.4 1339.9,1855.9 1341.2,1863.8 C1342.6,1871.6 1340.4,1884.6 1340.2,1888.8" style="stroke:#a9a9a9;stroke-width:1.6"/>
<path class="dg" d="M1518.75,1893.75 L1370.0,1821.25 C1367.7,1821.7 1361,1821.2 1356.2,1823.8 C1351.5,1826.2 1346,1830.7 1341.2,1836.2 C1336.5,1841.8 1331.7,1849.7 1328,1857 C1324.3,1864.3 1321.2,1872.8 1319,1880 C1316.8,1887.2 1315.2,1894.1 1315,1900 C1314.8,1905.9 1315.8,1911.2 1318,1915.5 C1320.2,1919.8 1326.3,1924 1328,1925.8 L1470.0,1992.5 C1469.4,1987.1 1464.6,1971.2 1466.2,1960 C1467.9,1948.8 1471.2,1936 1480,1925 C1488.8,1914 1512.3,1899 1518.8,1893.8Z" style="stroke-width:2.6"/>
<path class="dg" d="M1518.8,1893.8 L1595.8,1932.8 L1575,1985.8 L1555,2037.5 L1470,1992.5 C1469.4,1987.1 1464.6,1971.2 1466.2,1960 C1467.9,1948.8 1471.2,1936 1480,1925 C1488.8,1914 1512.3,1899 1518.8,1893.8Z" style="fill:#f0f0f0;stroke-width:2.6"/>
<clipPath id="d2k"><path d="M1518.8,1893.8 L1595.8,1932.8 L1575,1985.8 L1555,2037.5 L1470,1992.5 C1469.4,1987.1 1464.6,1971.2 1466.2,1960 C1467.9,1948.8 1471.2,1936 1480,1925 C1488.8,1914 1512.3,1899 1518.8,1893.8Z"/></clipPath><g clip-path="url(#d2k)">
<path class="thin" d="M1513.5,1892.2 L1594.2,1937" style="stroke:#1a1a1a;stroke-width:3.2"/>
<path class="thin" d="M1508.5,1891.7 L1589.3,1936.5" style="stroke:#1a1a1a;stroke-width:3.2"/>
<path class="thin" d="M1503.2,1892.4 L1584.2,1937.1" style="stroke:#1a1a1a;stroke-width:3.2"/>
<path class="thin" d="M1497.6,1894.3 L1578.8,1938.9" style="stroke:#1a1a1a;stroke-width:2.3"/>
<path class="thin" d="M1492,1897.2 L1573.3,1941.8" style="stroke:#1a1a1a;stroke-width:2.3"/>
<path class="thin" d="M1486.4,1901.3 L1567.9,1945.7" style="stroke:#1a1a1a;stroke-width:2.3"/>
<path class="thin" d="M1481,1906.3 L1562.7,1950.6" style="stroke:#1a1a1a;stroke-width:2.3"/>
<path class="thin" d="M1475.9,1912.1 L1557.7,1956.3" style="stroke:#1a1a1a;stroke-width:2.3"/>
<path class="thin" d="M1471.3,1918.7 L1553.2,1962.6" style="stroke:#1a1a1a;stroke-width:2.3"/>
<path class="thin" d="M1467.1,1925.8 L1549.2,1969.5" style="stroke:#1a1a1a;stroke-width:2.3"/>
<path class="thin" d="M1463.6,1933.3 L1545.8,1976.8" style="stroke:#1a1a1a;stroke-width:2.3"/>
<path class="thin" d="M1460.8,1941 L1543.1,1984.4" style="stroke:#1a1a1a;stroke-width:2.3"/>
<path class="thin" d="M1458.8,1948.8 L1541.1,1991.9" style="stroke:#1a1a1a;stroke-width:2.3"/>
<path class="thin" d="M1457.6,1956.5 L1539.9,1999.3" style="stroke:#1a1a1a;stroke-width:2.3"/>
<path class="thin" d="M1457.2,1963.8 L1539.6,2006.5" style="stroke:#1a1a1a;stroke-width:2.3"/>
<path class="thin" d="M1457.7,1970.7 L1540,2013.1" style="stroke:#1a1a1a;stroke-width:2.3"/>
<path class="thin" d="M1459.1,1976.9 L1541.3,2019.2" style="stroke:#1a1a1a;stroke-width:2.3"/>
<path class="thin" d="M1461.2,1982.3 L1543.4,2024.5" style="stroke:#1a1a1a;stroke-width:3.2"/>
<path class="thin" d="M1464.1,1986.9 L1546.3,2028.9" style="stroke:#1a1a1a;stroke-width:3.2"/>
<path class="thin" d="M1467.7,1990.4 L1549.8,2032.3" style="stroke:#1a1a1a;stroke-width:3.2"/>
</g>
<ellipse class="dg" cx="1575" cy="1985.8" rx="30.5" ry="55" transform="rotate(25 1575 1985.8)" style="fill:#888;stroke-width:2.6"/>
<path class="lead" d="M1215,1672.5 L1198.8,1742.5"/>
<path class="lead" d="M1486.2,1788.8 L1470,1857.5"/>
<rect class="tagbox" x="1202" y="1635" width="37.5" height="37.5"/><text class="tagtxt" x="1218.8" y="1666.5" style="font-size:28.6px">2</text>
<rect class="tagbox" x="1474.5" y="1752" width="36.8" height="36.8"/><text class="tagtxt" x="1491.4" y="1782.8" style="font-size:28.6px">1</text>
</g>

<!-- ================= DRAWING 3 ================= -->
<g id="draw3">
<path class="lw" d="M1156.5,2307.5 Q1156.5,2271 1209,2266 L1434,2265 L1634,2267.5 L1789,2273 Q1843,2276 1841.5,2315 Q1840,2335 1826.5,2355 L1736.5,2487.5 Q1709,2527.5 1634,2530 L1484,2533 L1404,2530.5 Q1359,2526 1336.5,2505 L1176.5,2342.5 Q1156.5,2322.5 1156.5,2307.5Z"/>
<path class="thin" d="M1160,2307.5 Q1160,2280 1201.5,2277 L1434,2276 L1684,2281 Q1756.5,2285 1751,2327.5 Q1749,2340 1743,2352.5 L1665,2494 Q1646.5,2526 1584,2528 L1484,2531.5"/>
<path class="thin" d="M1194,2292.5 L1694,2295"/>
<path class="thin" d="M1759,2311 L1829,2304"/>
<path class="thin" d="M1341.5,2510 C1346.1,2512.3 1358.6,2520.6 1369,2524 C1379.4,2527.4 1398.2,2529.4 1404,2530.5"/>
<path class="thin" d="M1404,2386 Q1404,2372 1420,2371.5 L1478,2372.5 Q1490,2373 1491.5,2390 L1506.5,2526 Q1464,2531 1426.5,2527 Q1419,2522.5 1418,2510Z"/>
<path class="thin" d="M1432.5,2381 C1432.1,2381.4 1429,2379.1 1428.5,2385 C1428,2390.9 1428.1,2429.5 1428,2440 C1427.9,2450.5 1427.2,2483 1427.5,2490 C1427.8,2497 1431.1,2508 1431.5,2510"/>
<path class="lw" d="M406.2,2395 L398.8,2452.5 C399.6,2453.5 400.6,2457.2 403.8,2458.8 C406.9,2460.3 412.9,2461.9 417.5,2461.8 C422.1,2461.6 428.4,2459.3 431.2,2458 C434.1,2456.7 434,2454.5 434.5,2453.8 L442.5,2405.0" style="stroke-width:1.5"/>
<path class="lw" d="M620.5,2395 L615,2421.2 C616,2422.6 617.7,2427.4 621.2,2429.5 C624.8,2431.6 631.5,2433.9 636.2,2434 C641,2434.1 647.4,2431.3 650,2430 C652.6,2428.7 651.7,2426.9 652,2426.2 L659.25,2386.25" style="stroke-width:1.5"/>
<path class="lw" d="M460,2310 C460.3,2308.7 461.2,2304 462.5,2300 C463.8,2296 467,2285.7 470,2280 C473,2274.3 479.7,2263.5 485,2257.5 C490.3,2251.5 503.3,2240.7 510,2235 C516.7,2229.3 528.3,2219.7 535,2215 C541.7,2210.3 553.3,2203.3 560,2200 C566.7,2196.7 578.3,2192 585,2190 C591.7,2188 601.3,2186.3 610,2185 C618.7,2183.7 631.3,2181.5 650,2180 C668.7,2178.5 710,2175 750,2174 C790,2173 896.7,2172.5 950,2172.5 C1003.3,2172.5 1098.8,2173.1 1150,2174 C1201.2,2174.9 1282.8,2177.4 1334,2179 C1385.2,2180.6 1494,2184.5 1534,2186 C1574,2187.5 1617,2189.2 1634,2190 C1651,2190.8 1656,2190.8 1661.5,2192 C1667,2193.2 1672.7,2196.5 1675,2199 C1677.3,2201.5 1679.4,2207.9 1679,2211 C1678.6,2214.1 1675.3,2220 1672,2222 C1668.7,2224 1662.4,2224.9 1654,2226 C1645.6,2227.1 1621.7,2228.5 1609,2230 C1596.3,2231.5 1569.7,2235.4 1559,2237.5 C1548.3,2239.6 1536.3,2244.2 1529,2246 C1521.7,2247.8 1513.3,2250.1 1504,2251 C1494.7,2251.9 1481.7,2253 1459,2253 C1436.3,2253 1350.7,2251.3 1334,2251 L1207.5,2251.0 L1000.0,2252.5 L807.5,2254.0 L723.75,2313.75 L707.0,2311.25 C706.5,2314.8 705.3,2325.6 703.8,2332.5 C702.2,2339.4 699.4,2347.2 697.5,2352.5 C695.6,2357.8 693.3,2362.5 692.5,2364.5 L687.5,2383.75 L675.5,2382.5 L675.5,2376.5 C674,2377 672.5,2377.3 666.3,2379.4 C660.2,2381.6 649.4,2386.8 638.6,2389.6 C627.9,2392.4 614,2394.5 601.7,2396.1 C589.4,2397.6 577.1,2398.5 564.7,2398.8 C552.4,2399.1 540.1,2398.7 527.8,2397.9 C515.5,2397.1 501.5,2395.6 490.8,2394.2 C480.2,2392.8 468.5,2390.4 464.1,2389.6 L469.04489192684275,2392.7397007204877 L465.90430445224456,2407.5189358950674 L461.2857934601884,2410.844263809348 C457,2410.2 444.4,2409.3 435.4,2407.1 C426.5,2405 415.1,2401.3 407.7,2397.9 C400.3,2394.5 394.8,2390.2 391.1,2386.8 C387.4,2383.4 386.2,2382.8 385.5,2377.6 C384.9,2372.4 386.8,2361 387.4,2355.4 C388,2349.9 388,2348 389.2,2344.3 C390.5,2340.6 391.7,2336.6 394.8,2333.3 C397.9,2329.9 400.9,2326.9 407.7,2324 C414.5,2321.1 426.8,2318.2 435.4,2315.7 C444,2313.2 455.4,2310.3 459.4,2309.2Z" style="stroke-width:1.5"/>
<path class="thin" d="M632.5,2192.5 L1312,2210 L1474,2212.5"/>
<path class="thin" d="M538.8,2240 C539.9,2238.8 547.4,2230 550,2227.5 C552.6,2225 561.5,2216 565,2215 C568.5,2214 580.5,2217.1 585,2217.5 C589.5,2217.9 598.5,2218.6 610,2218.8 C621.5,2218.9 661,2218.9 700,2219 C739,2219.1 938.8,2219.4 1000,2220 C1061.2,2220.6 1268.6,2224.4 1312,2225 C1355.4,2225.6 1417.8,2225.9 1434,2226 C1450.2,2226.1 1467.4,2225.7 1474,2225.5 C1480.6,2225.3 1494.5,2224.9 1500,2224 C1505.5,2223.1 1522.8,2218.2 1529,2216.5 C1535.2,2214.8 1553.3,2208.6 1561.5,2207 C1569.7,2205.4 1603,2201.5 1611,2200.8 C1619,2200.1 1635.1,2199.9 1641.5,2200.2 C1647.9,2200.4 1671.7,2202.7 1675,2203"/>
<path class="thin" d="M496.2,2316.2 C497.6,2314.1 506.1,2300.4 510,2295 C513.9,2289.6 530.2,2268 535,2262.5 C539.8,2257 553.8,2242.9 557.5,2240 C561.2,2237.1 569.2,2234.1 572.5,2233.8 C575.8,2233.4 586.2,2236.2 590,2236.2 C593.8,2236.2 599,2234.2 610,2233.8 C621,2233.3 661,2232.4 700,2232 C739,2231.6 938.8,2229.7 1000,2230 C1061.2,2230.3 1267.6,2234.4 1312,2235 C1356.4,2235.6 1425.8,2235.5 1444,2235.5 C1462.2,2235.5 1486,2235.2 1494,2235 C1502,2234.8 1518.7,2233.5 1524,2233 C1529.3,2232.5 1541.5,2231 1547,2230 C1552.5,2229 1572.6,2224.3 1579,2223 C1585.4,2221.7 1604.1,2217.9 1611,2216.8 C1617.9,2215.7 1641.4,2212.6 1648,2211.9 C1654.6,2211.2 1674.1,2209.7 1677,2209.5"/>
<path class="thin" d="M498.8,2315 C501.1,2314 517.6,2308 522.5,2305 C527.4,2302 543,2289.2 547.5,2285 C552,2280.8 563.8,2265.8 567.5,2262.5 C571.2,2259.2 580.8,2253.2 585,2252.5 C589.2,2251.8 605,2254.8 610,2255 C615,2255.2 626,2254.4 635,2254.5 C644,2254.6 682.8,2256.1 700,2256 C717.2,2255.9 796.8,2254.2 807.5,2254"/>
<text transform="translate(1538 2198) rotate(-3.4) skewX(-55) scale(5.6 1)" font-family="'Liberation Sans',sans-serif" font-weight="bold" font-size="6.5" fill="#333" stroke="#111" stroke-width="1" vector-effect="non-scaling-stroke">Puig</text>
<path class="thin" d="M1444,2251 L1445,2260 L1479,2260 L1480,2251" style="fill:#fff"/>
<path class="thin" d="M1411.5,2271.5 C1409.8,2270 1421.9,2267.9 1434,2267 C1446.1,2266.1 1470.5,2265.7 1484,2266 C1497.5,2266.3 1513.3,2267.7 1515,2269 C1516.7,2270.3 1505.8,2272.8 1494,2274 C1482.2,2275.2 1457.8,2276.4 1444,2276 C1430.2,2275.6 1413.2,2273 1411.5,2271.5Z" style="fill:#fff"/>
<path class="thin" d="M1419,2272 C1424.8,2272.3 1441.5,2274.2 1454,2274 C1466.5,2273.8 1484.4,2271.8 1494,2271 C1503.6,2270.2 1508.6,2269.3 1511.5,2269"/>
<path class="thin" d="M393.9,2337.9 C396.2,2336.1 400.8,2330.5 407.7,2327.3 C414.6,2324.2 427.1,2321.2 435.4,2318.8 C443.7,2316.5 453.9,2314.2 457.6,2313.3"/>
<path class="thin" d="M398.5,2346.2 C399.1,2344.6 399.7,2339.2 402.2,2336.9 C404.6,2334.7 409.9,2333.7 413.3,2332.9 C416.6,2332 421,2332 422.5,2331.8"/>
<path class="thin" d="M404,2348.4 C404.9,2346.8 406.9,2341.2 409.6,2338.8 C412.2,2336.4 418,2334.9 419.7,2334.2"/>
<path class="thin" d="M422.5,2331.4 L428.4,2327.7 L441.3,2327 L452.4,2332.5 L448.4,2338.1 L435.4,2339.2 L426.2,2336.2Z"/>
<path class="thin" d="M439.1,2327.3 L440.2,2338.8"/>
<path class="thin" d="M442.8,2327.7 C443.9,2327.1 447.4,2325.7 449.3,2324 C451.1,2322.3 453.1,2318.6 453.9,2317.6"/>
<path class="ln" d="M459.8,2309.2 C459.1,2312.3 456.9,2322.6 455.7,2327.7 C454.6,2332.8 453.5,2336.3 453,2339.7 C452.4,2343.2 452.5,2347 452.4,2348.4" style="stroke-width:1.5"/>
<path class="thin" d="M469,2392.7 L490.8,2396.4"/>
<path class="ln" d="M465,2342.9 C464.8,2338 466.5,2334.9 468.7,2331.8 C470.8,2328.7 474.2,2326 477.9,2324.4 C481.6,2322.8 485.6,2322.1 490.8,2322.2 C496.1,2322.3 503.2,2323.7 509.3,2324.9 C515.5,2326.2 521.6,2327.7 527.8,2329.6 C534,2331.4 540.1,2333.4 546.3,2336 C552.4,2338.6 560.2,2342.6 564.7,2345.3 C569.3,2348 572,2350.3 573.6,2352.3 C575.2,2354.3 575.2,2355.4 574.3,2357.3 C573.5,2359.2 571.6,2361.4 568.4,2363.7 C565.3,2366 560.7,2369.1 555.5,2371.1 C550.3,2373.1 544.7,2374.5 537,2375.7 C529.3,2377 517,2378.4 509.3,2378.5 C501.6,2378.7 496.1,2377.9 490.8,2376.7 C485.6,2375.4 481.5,2373.7 477.9,2371.1 C474.4,2368.5 471.8,2365.7 469.6,2361 C467.4,2356.3 465.1,2347.7 465,2342.9Z" style="stroke-width:1.5;fill:#fff"/>
<path class="thin" d="M544,2355.4 C544.9,2357 546.7,2362.3 549,2364.7 C551.4,2367.1 556.7,2369 558.3,2369.8"/>
<path class="thin" d="M548.1,2355.1 C549,2356.3 551,2361.1 553.7,2362.8 C556.3,2364.5 562.1,2364.7 563.8,2365"/>
<path class="thin" d="M552.7,2354.5 C553.7,2355.4 556.2,2359.2 558.8,2360 C561.5,2360.9 567.1,2359.6 568.8,2359.5"/>
<path class="thin" d="M442.8,2368.7 C445.9,2369.3 455.1,2371.2 461.3,2372.4 C467.4,2373.6 476.7,2375.2 479.8,2375.7"/>
<path class="thin" d="M459.4,2366.9 C461.6,2367.9 468.4,2371.6 472.4,2373 C476.4,2374.4 481.6,2375 483.5,2375.4"/>
<path class="ln" d="M677.5,2337 C677.4,2333.8 679.6,2329.1 682.5,2325 C685.4,2320.9 691.3,2315.4 695,2312.5 C698.7,2309.6 702.4,2307.7 704.5,2307.5 C706.6,2307.3 707.8,2308.3 707.5,2311.2 C707.2,2314.2 705.5,2320.2 703,2325 C700.5,2329.8 695.8,2336.8 692.5,2340 C689.2,2343.2 685.5,2344.5 683,2344 C680.5,2343.5 677.6,2340.2 677.5,2337Z" style="stroke-width:1.5;fill:#fff"/>
<path class="rod" d="M693.8,2319 L1207.5,2251 L1336.5,2251 L1134,2277.5 L1000,2293 L800,2317 L677.5,2336.5Z" style="stroke-width:1.5"/>
<path class="ln" d="M693.8,2319 C694.9,2317.9 698.6,2314.3 700.5,2312.5 C702.4,2310.7 704.2,2308.8 705,2308" style="stroke-width:1.5"/>
<path class="rod" d="M286.2,2370.5 L545,2335.5 L573.8,2352 L286.2,2386.2Z" style="stroke-width:1.4"/>
<path class="gr" style="fill:#b2b2b2;stroke-width:2" fill-rule="evenodd" d="M305.3,2375.8 A14.8,23.8 -4 1 1 334.7,2373.8 A14.8,23.8 -4 1 1 305.3,2375.8 Z M311.3,2375.3 A8.8,17 -4 1 0 328.7,2374.2 A8.8,17 -4 1 0 311.3,2375.3 Z"/>
<clipPath id="d3w"><path d="M260,2300 h57 v200 h-57 Z M311.3,2375.3 A8.8,17 -4 1 1 328.7,2374.2 A8.8,17 -4 1 1 311.3,2375.3 Z"/></clipPath>
<g clip-path="url(#d3w)"><path class="rod" d="M286.2,2370.5 L337.5,2364 L337.5,2380 L286.2,2386.2Z" style="stroke-width:1.4"/></g>
<ellipse class="dg" cx="280" cy="2379.5" rx="6.2" ry="17" transform="rotate(-5 280 2379.5)" style="stroke-width:2"/>
<ellipse class="dg" cx="270.5" cy="2380.5" rx="6.2" ry="17" transform="rotate(-5 270.5 2380.5)" style="stroke-width:2"/>
<ellipse class="dg" cx="260.5" cy="2381.8" rx="6.2" ry="17" transform="rotate(-5 260.5 2381.8)" style="stroke-width:2"/>
<ellipse class="dg" cx="250.5" cy="2383" rx="6.2" ry="17" transform="rotate(-5 250.5 2383)" style="stroke-width:2"/>
<path class="dg" d="M153.75,2366.25 L222.0,2357.5 C223.8,2357.9 229.4,2357.7 232.5,2360 C235.6,2362.3 238.6,2366.9 240.5,2371.2 C242.4,2375.6 243.8,2381.2 244,2386.2 C244.2,2391.2 243.5,2397 242,2401.2 C240.5,2405.5 237.5,2409.6 235,2412 C232.5,2414.4 228.3,2414.9 227,2415.5 L158.75,2424.25 C159.4,2421 162.2,2412 162.5,2405 C162.8,2398 162,2389 160.5,2382.5 C159,2376 154.9,2369 153.8,2366.2Z" style="stroke-width:2"/>
<path class="dg" d="M105.5,2372.75 L153.75,2366.25 C154.9,2369 159,2376 160.5,2382.5 C162,2389 162.8,2398 162.5,2405 C162.2,2412 159.4,2421 158.8,2424.2 L113.0,2429.75 L107.5,2401.25 Z" style="fill:#f0f0f0;stroke-width:2"/>
<clipPath id="d3k"><path d="M105.5,2372.75 L153.75,2366.25 C154.9,2369 159,2376 160.5,2382.5 C162,2389 162.8,2398 162.5,2405 C162.2,2412 159.4,2421 158.8,2424.2 L113.0,2429.75 L107.5,2401.25 Z"/></clipPath><g clip-path="url(#d3k)">
<path class="thin" d="M107.3,2373 L161.1,2366.2" style="stroke:#1a1a1a;stroke-width:2.2"/>
<path class="thin" d="M110.3,2373.9 L164.1,2367.2" style="stroke:#1a1a1a;stroke-width:2.2"/>
<path class="thin" d="M113.3,2375.7 L167,2368.9" style="stroke:#1a1a1a;stroke-width:1.6"/>
<path class="thin" d="M116,2378.3 L169.8,2371.5" style="stroke:#1a1a1a;stroke-width:1.6"/>
<path class="thin" d="M118.5,2381.5 L172.3,2374.8" style="stroke:#1a1a1a;stroke-width:1.6"/>
<path class="thin" d="M120.7,2385.4 L174.4,2378.7" style="stroke:#1a1a1a;stroke-width:1.6"/>
<path class="thin" d="M122.4,2389.8 L176.1,2383.1" style="stroke:#1a1a1a;stroke-width:1.6"/>
<path class="thin" d="M123.7,2394.6 L177.4,2387.8" style="stroke:#1a1a1a;stroke-width:1.6"/>
<path class="thin" d="M124.4,2399.6 L178.2,2392.8" style="stroke:#1a1a1a;stroke-width:1.6"/>
<path class="thin" d="M124.7,2404.6 L178.4,2397.8" style="stroke:#1a1a1a;stroke-width:1.6"/>
<path class="thin" d="M124.4,2409.5 L178.1,2402.7" style="stroke:#1a1a1a;stroke-width:1.6"/>
<path class="thin" d="M123.5,2414.1 L177.3,2407.4" style="stroke:#1a1a1a;stroke-width:1.6"/>
<path class="thin" d="M122.2,2418.4 L176,2411.6" style="stroke:#1a1a1a;stroke-width:1.6"/>
<path class="thin" d="M120.4,2422.1 L174.2,2415.3" style="stroke:#1a1a1a;stroke-width:1.6"/>
<path class="thin" d="M118.3,2425.2 L172,2418.4" style="stroke:#1a1a1a;stroke-width:1.6"/>
<path class="thin" d="M115.7,2427.5 L169.5,2420.7" style="stroke:#1a1a1a;stroke-width:2.2"/>
<path class="thin" d="M113,2429 L166.7,2422.2" style="stroke:#1a1a1a;stroke-width:2.2"/>
</g>
<ellipse class="dg" cx="108" cy="2401.5" rx="17.3" ry="28.3" transform="rotate(-7 108 2401.5)" style="fill:#888;stroke-width:2"/>
<path class="lead" d="M185,2430 L162.5,2531"/>
<path class="lead" d="M318.8,2406.2 L296.2,2507.5"/>
<rect class="tagbox" x="140" y="2534.5" width="40.5" height="40.5"/><text class="tagtxt" x="159.1" y="2567" style="font-size:29px">1</text>
<rect class="tagbox" x="273.8" y="2510" width="40" height="40"/><text class="tagtxt" x="292.2" y="2542.4" style="font-size:29px">2</text>
</g>
</svg>
</body>
</html>
